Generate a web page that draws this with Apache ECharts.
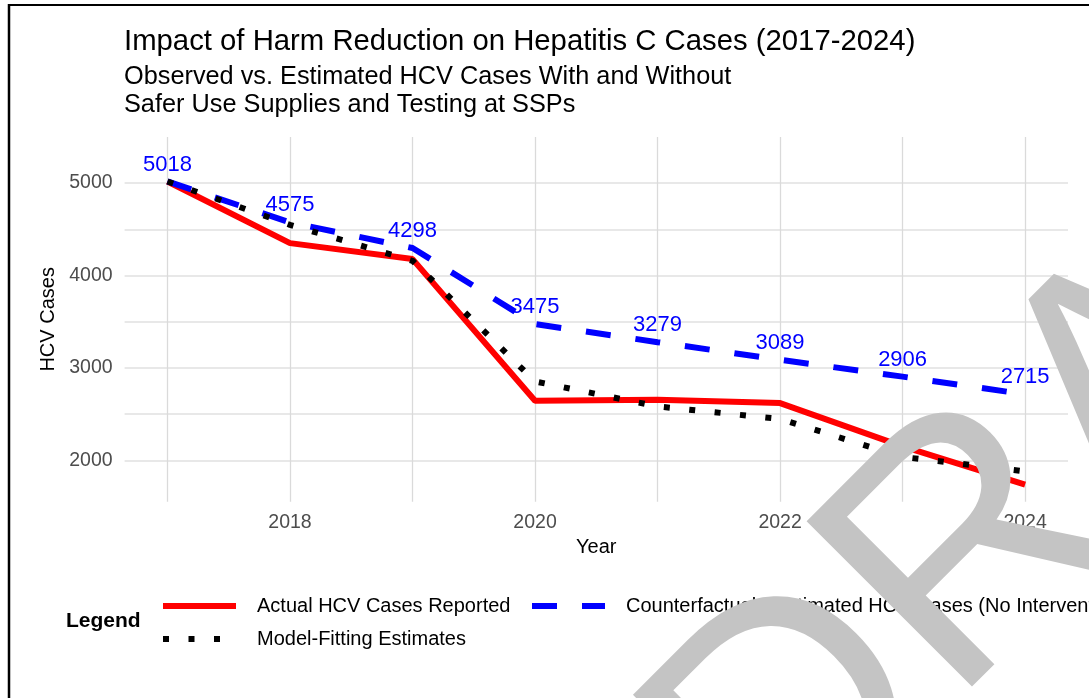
<!DOCTYPE html>
<html>
<head>
<meta charset="utf-8">
<title>Impact of Harm Reduction on Hepatitis C Cases</title>
<script src="https://cdn.jsdelivr.net/npm/echarts@6/dist/echarts.min.js"></script>
<style>
html, body { margin: 0; padding: 0; background: #fff; }
#chart { width: 1089px; height: 698px; }
</style>
</head>
<body>
<div id="chart"></div>
<script>
// data
var years = [2017, 2018, 2019, 2020, 2021, 2022, 2023, 2024];
var actualCases = [5018, 4351, 4178, 2646, 2656, 2620, 2151, 1737];
var counterfactualCases = [5018, 4575, 4298, 3475, 3279, 3089, 2906, 2715];
var modelFitCases = [5018, 4549, 4160, 2854, 2584, 2448, 2037, 1881];
var seriesNames = [
	"Actual HCV Cases Reported",
	"Counterfactual - Estimated HCV Cases (No Intervention)",
	"Model-Fitting Estimates"
];
var xLabelYears = [2018, 2020, 2022, 2024];
var yGridValues = [2000, 2500, 3000, 3500, 4000, 4500, 5000, 5500];
var yLabelValues = [2000, 3000, 4000, 5000];

var FONT = '"Liberation Sans", Arial, sans-serif';

function pairs(values) {
	return years.map(function(y, i) {
		return [y, values[i]];
	});
}

function plain(v) {
	return String(v);
}

var chart = echarts.init(document.getElementById("chart"), null, { renderer: "canvas" });

var option = {
	backgroundColor: "#ffffff",
	animation: false,
	textStyle: { fontFamily: FONT },
	title: [
		{
			text: "Impact of Harm Reduction on Hepatitis C Cases (2017-2024)",
			left: 124, top: 27, padding: 0,
			textStyle: { fontSize: 29.3, fontWeight: "normal", color: "#000", fontFamily: FONT }
		},
		{
			text: "Observed vs. Estimated HCV Cases With and Without\nSafer Use Supplies and Testing at SSPs",
			left: 124, top: 63, padding: 0,
			textStyle: { fontSize: 25.3, lineHeight: 28, fontWeight: "normal", color: "#000", fontFamily: FONT }
		},
		{
			text: "Legend",
			left: 66, top: 611, padding: 0,
			textStyle: { fontSize: 21, fontWeight: "bold", color: "#000", fontFamily: FONT }
		}
	],
	grid: { left: 124.6, right: 21, top: 137, bottom: 196.3 },
	xAxis: {
		type: "value",
		min: 2016.65,
		max: 2024.35,
		name: "Year",
		nameLocation: "middle",
		nameGap: 36,
		nameTextStyle: { fontSize: 20, color: "#000", fontFamily: FONT },
		axisLine: { show: false },
		axisTick: { show: false, customValues: years },
		axisLabel: { customValues: xLabelYears, formatter: plain, fontSize: 19.5, color: "#4d4d4d", margin: 11, fontFamily: FONT },
		splitLine: { show: true, lineStyle: { color: "#dadada", width: 1.3 } }
	},
	yAxis: {
		type: "value",
		min: 1553,
		max: 5499,
		name: "HCV Cases",
		nameLocation: "middle",
		nameGap: 59,
		nameRotate: 90,
		nameTextStyle: { fontSize: 20, color: "#000", fontFamily: FONT },
		axisLine: { show: false },
		axisTick: { show: false, customValues: yGridValues },
		axisLabel: { customValues: yLabelValues, formatter: plain, fontSize: 19.5, color: "#4d4d4d", margin: 12, fontFamily: FONT },
		splitLine: { show: true, lineStyle: { color: "#e8e8e8", width: 2 } }
	},
	legend: {
		left: 160,
		top: 596,
		width: 1050,
		padding: 0,
		itemWidth: 73,
		itemHeight: 13,
		itemGap: 13,
		itemStyle: { opacity: 0 },
		lineStyle: { width: 6 },
		// a trailing space pushes the second key a little further right
		formatter: function(name) {
			return name === seriesNames[0] ? name + " " : name;
		},
		textStyle: { fontSize: 20, color: "#000", padding: [0, 0, 0, 16], fontFamily: FONT },
		data: seriesNames
	},
	series: [
		{
			name: seriesNames[0],
			type: "line",
			data: pairs(actualCases),
			symbol: "none",
			lineStyle: { color: "#ff0000", width: 6, cap: "butt" },
			itemStyle: { color: "#ff0000" },
			z: 2
		},
		{
			name: seriesNames[1],
			type: "line",
			data: pairs(counterfactualCases),
			symbol: "circle",
			symbolSize: 0.01,
			showSymbol: true,
			lineStyle: { color: "#0000ff", width: 6, type: [25, 25], cap: "butt" },
			itemStyle: { color: "#0000ff" },
			label: {
				show: true,
				position: "top",
				distance: 6,
				fontSize: 22,
				color: "#0000ff",
				fontFamily: FONT
			},
			z: 3
		},
		{
			name: seriesNames[2],
			type: "line",
			data: pairs(modelFitCases),
			symbol: "none",
			lineStyle: { color: "#000000", width: 6, type: [6, 19.5], cap: "butt" },
			itemStyle: { color: "#000000" },
			z: 4
		}
	],
	graphic: [
		{ type: "line", shape: { x1: 9, y1: 4, x2: 9, y2: 698 }, style: { stroke: "#000", lineWidth: 2.5 } },
		{ type: "line", shape: { x1: 8, y1: 5, x2: 1089, y2: 5 }, style: { stroke: "#000", lineWidth: 2 } },
		{
			type: "text",
			x: 1113,
			y: 413,
			rotation: 45 * Math.PI / 180,
			z: 100,
			silent: true,
			style: {
				text: "DRAFT",
				font: '340px "Liberation Sans"',
				fill: "#c4c4c4",
				align: "center",
				verticalAlign: "middle",
				textAlign: "center",
				textVerticalAlign: "middle",
				blend: "multiply"
			}
		}
	]
};

chart.setOption(option);
</script>
</body>
</html>
